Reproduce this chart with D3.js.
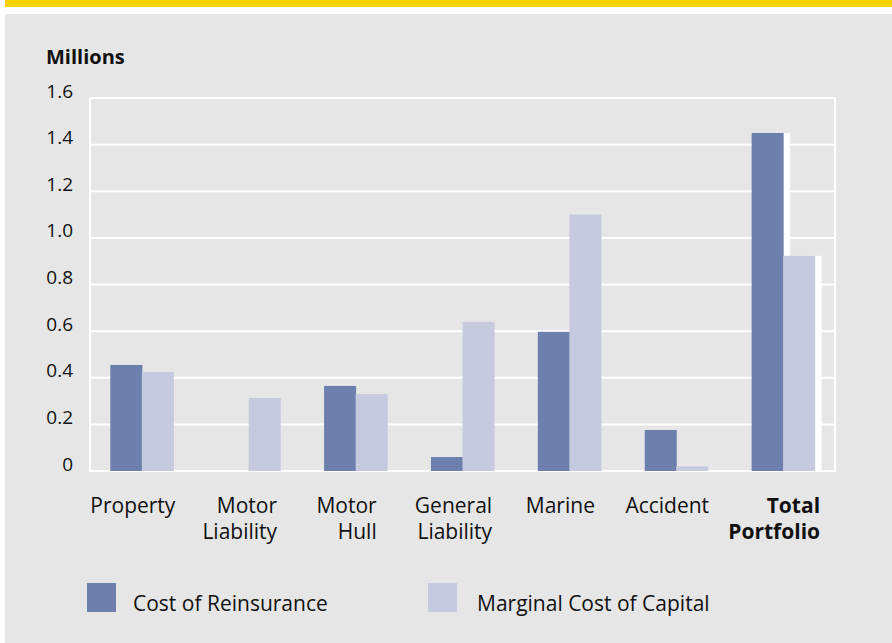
<!DOCTYPE html>
<html>
<head>
<meta charset="utf-8">
<script src="https://cdn.jsdelivr.net/npm/d3@7"></script>
<style>
  body { margin: 0; background: #fff; }
  svg text { font-family: "Open Sans", "Noto Sans", sans-serif; fill: #111; }
</style>
</head>
<body>
<svg id="chart" width="892" height="643"></svg>
<script>
var categories = ["Property", "Motor Liability", "Motor Hull", "General Liability", "Marine", "Accident", "Total Portfolio"];
var categoryLines = [["Property"], ["Motor", "Liability"], ["Motor", "Hull"], ["General", "Liability"], ["Marine"], ["Accident"], ["Total", "Portfolio"]];
var seriesNames = ["Cost of Reinsurance", "Marginal Cost of Capital"];
var reinsurance = [0.455, 0, 0.365, 0.06, 0.597, 0.176, 1.45];
var capital = [0.425, 0.313, 0.33, 0.64, 1.10, 0.02, 0.923];
var tickValues = [0, 0.2, 0.4, 0.6, 0.8, 1.0, 1.2, 1.4, 1.6];
var tickLabels = ["0", "0.2", "0.4", "0.6", "0.8", "1.0", "1.2", "1.4", "1.6"];

var colors = ["#6d7fad", "#c5cadf"];
var svg = d3.select('#chart');

// frame: yellow band, white gap, grey panel
svg.append('rect').attr('x', 5).attr('y', 0).attr('width', 887).attr('height', 7).attr('fill', '#f8d300');
svg.append('rect').attr('x', 5).attr('y', 14).attr('width', 887).attr('height', 629).attr('fill', '#e6e6e6');

var plotLeft = 90, plotRight = 835, plotTop = 98, plotBottom = 471;

var y = d3.scaleLinear().domain([0, 1.6]).range([plotBottom, plotTop]);
var x = d3.scaleBand().domain(categories).range([plotLeft, plotRight]).paddingInner(0.41).paddingOuter(0.19);
var xs = d3.scaleBand().domain(seriesNames).range([0, x.bandwidth()]);

// grid
svg.append('g').selectAll('line')
  .data(tickValues)
  .enter().append('line')
  .attr('x1', plotLeft).attr('x2', plotRight)
  .attr('y1', function(d) { return y(d); })
  .attr('y2', function(d) { return y(d); })
  .attr('stroke', '#fff').attr('stroke-width', 2);
svg.append('line').attr('x1', plotLeft).attr('x2', plotLeft).attr('y1', plotTop).attr('y2', plotBottom + 1)
  .attr('stroke', '#fff').attr('stroke-width', 2);
svg.append('line').attr('x1', plotRight).attr('x2', plotRight).attr('y1', plotTop).attr('y2', plotBottom + 1)
  .attr('stroke', '#fff').attr('stroke-width', 2);

// y axis labels
var yAxis = d3.axisLeft(y)
  .tickValues(tickValues)
  .tickSize(0)
  .tickPadding(0)
  .tickFormat(function(d, i) { return tickLabels[i]; });
var ya = svg.append('g').attr('transform', 'translate(73,-7)').call(yAxis);
ya.select('.domain').remove();
ya.selectAll('text').attr('font-size', 19).attr('fill', '#111')
  .attr('font-family', '"Open Sans", sans-serif');

svg.append('text').attr('x', 46).attr('y', 64).attr('font-size', 20).attr('font-weight', 'bold').text('Millions');

// bars
var rows = categories.map(function(c, i) {
  return { cat: c, values: [reinsurance[i], capital[i]] };
});
var total = categories[categories.length - 1];

var groups = svg.append('g').selectAll('g')
  .data(rows)
  .enter().append('g')
  .attr('transform', function(d) { return 'translate(' + x(d.cat) + ',0)'; });

groups.filter(function(d) { return d.cat === total; })
  .selectAll('rect.shadow')
  .data(function(d) { return d.values.map(function(v, i) { return { s: seriesNames[i], v: v }; }); })
  .enter().append('rect')
  .attr('class', 'shadow')
  .attr('x', function(d) { return xs(d.s) + 7; })
  .attr('y', function(d) { return y(d.v); })
  .attr('width', xs.bandwidth())
  .attr('height', function(d) { return plotBottom - y(d.v); })
  .attr('fill', '#fff');

groups.selectAll('rect.bar')
  .data(function(d) { return d.values.map(function(v, i) { return { s: seriesNames[i], v: v, i: i }; }); })
  .enter().append('rect')
  .attr('class', 'bar')
  .attr('x', function(d) { return xs(d.s); })
  .attr('y', function(d) { return y(d.v); })
  .attr('width', xs.bandwidth() + 0.5)
  .attr('height', function(d) { return plotBottom - y(d.v); })
  .attr('fill', function(d) { return colors[d.i]; });

// category labels: lines right-aligned within a block centred under the group
var labels = svg.append('g').selectAll('text')
  .data(rows)
  .enter().append('text')
  .attr('font-size', 21)
  .attr('font-weight', function(d) { return d.cat === total ? 'bold' : 'normal'; })
  .attr('y', 513);
labels.selectAll('tspan')
  .data(function(d, i) { return categoryLines[i]; })
  .enter().append('tspan')
  .attr('dy', function(d, i) { return i === 0 ? 0 : 26; })
  .text(function(d) { return d; });
labels.each(function(d) {
  var maxW = 0;
  d3.select(this).selectAll('tspan').each(function() {
    maxW = Math.max(maxW, this.getComputedTextLength());
  });
  var right = x(d.cat) + x.bandwidth() / 2 - 9 + maxW / 2;
  d3.select(this).attr('text-anchor', 'end').selectAll('tspan').attr('x', right);
});

// legend
var legendX = [87, 428];
var legend = svg.append('g').selectAll('g')
  .data(seriesNames)
  .enter().append('g')
  .attr('transform', function(d, i) { return 'translate(' + legendX[i] + ',583)'; });
legend.append('rect').attr('width', 29).attr('height', 29)
  .attr('fill', function(d, i) { return colors[i]; });
legend.append('text').attr('x', function(d, i) { return i === 0 ? 46 : 49; }).attr('y', 28).attr('font-size', 21)
  .text(function(d) { return d; });
</script>
</body>
</html>
